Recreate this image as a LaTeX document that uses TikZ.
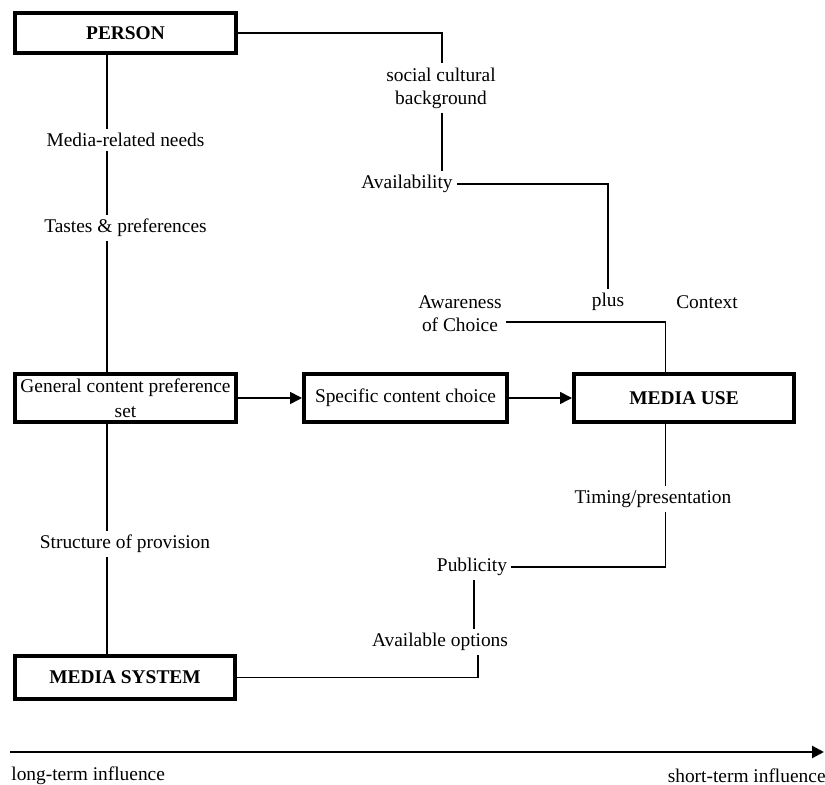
\documentclass[tikz,border=0pt]{standalone}
\usepackage{fontspec}
\setmainfont{Liberation Serif}
\usetikzlibrary{arrows.meta,positioning}
\tikzstyle{block} = [
    rectangle,
    draw=black,
    line width=2pt,
    minimum width=110pt,
    minimum height=24pt,
    text centered,
    inner sep=1pt
]
\tikzstyle{factor} = [
    align=center,
    inner sep=2pt
]
\tikzstyle{link} = [
    line width=0.65pt
]
\tikzstyle{arrow} = [
    line width=0.8pt,
    -{Triangle[length=6pt,width=6pt]}
]

\begin{document}
\fontsize{9.7}{11.5}\selectfont
\begin{tikzpicture}[x=0.5pt, y=-0.5pt]
        \useasboundingbox (0,0) rectangle (825,785);
        % boxes
        \node[block, minimum width=110.5pt, minimum height=20pt, font=\bfseries] (person) at (125.5,33) {PERSON};
        \node[block, minimum width=110.5pt, align=center] (general) at (125.5,398) {General content preference\\[1pt]set};
        \node[block, minimum width=101.5pt] (specific) at (405.5,398) {Specific content choice};
        \node[block, font=\bfseries] (use) at (684,398) {MEDIA USE};
        \node[block, minimum height=21.5pt, font=\bfseries] (system) at (125,677.5) {MEDIA SYSTEM};

        % factors
        \node[factor] (needs) at (125.5,140) {Media-related needs};
        \node[factor] (tastes) at (125.5,228) {Tastes \& preferences};
        \node[factor] (provision) at (125,544) {Structure of provision};
        \node[factor] (social) at (441,88) {social cultural\\background};
        \node[factor] (avail) at (407,184) {Availability};
        \node[factor] (plus) at (608,302) {plus};
        \node[factor] (context) at (707,302) {Context};
        \node[factor] (aware) at (460,314) {Awareness\\of Choice};
        \node[factor] (timing) at (653,499) {Timing/presentation};
        \node[factor] (publicity) at (472,567) {Publicity};
        \node[factor] (options) at (440,642) {Available options};

        % line columns
        \coordinate (spine) at (107,0);
        \coordinate (sx) at (442,0);
        \coordinate (rx) at (665.5,0);
        \coordinate (px) at (474,0);
        \coordinate (ox) at (478,0);

        % left column
        \draw[link] (person.south -| spine) -- (needs.north -| spine);
        \draw[link] (needs.south -| spine) -- (tastes.north -| spine);
        \draw[link] (tastes.south -| spine) -- (general.north -| spine);
        \draw[link] (general.south -| spine) -- (provision.north -| spine);
        \draw[link] (provision.south -| spine) -- (system.north -| spine);

        % upper path
        \draw[link] (person.east) -| (sx |- social.north);
        \draw[link] (sx |- social.south) -- (sx |- avail.north);
        \draw[link] (avail.east) -| (plus.north);
        \draw[link] ([yshift=-4pt]aware.east) -| (rx |- use.north);

        % lower path
        \draw[link] (rx |- use.south) -- (rx |- timing.north);
        \draw[link] (rx |- timing.south) |- (publicity.east);
        \draw[link] (px |- publicity.south) -- (px |- options.north);
        \draw[link] (ox |- options.south) |- (system.east);

        % main flow
        \draw[arrow] (general) -- (specific);
        \draw[arrow] (specific) -- (use);

        % time axis
        \coordinate (tstart) at (10,752);
        \coordinate (tend) at (824,752);
        \draw[arrow, line width=1.1pt] (tstart) -- (tend);
        \node[anchor=west, inner sep=0pt] (longterm) at (11,776) {long-term influence};
        \node[anchor=east, inner sep=0pt] (shortterm) at (826,776) {short-term influence};
    \end{tikzpicture}
\end{document}
